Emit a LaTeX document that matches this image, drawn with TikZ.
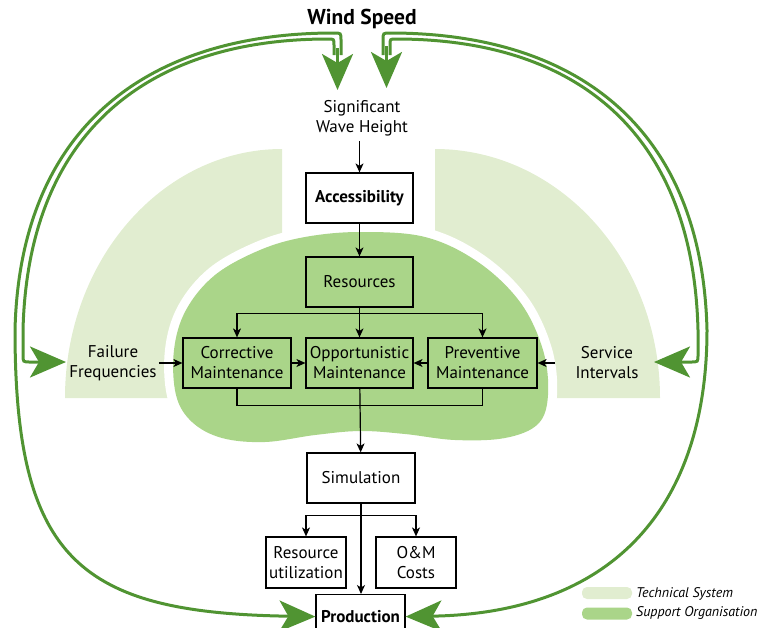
\documentclass[tikz,border=0pt]{standalone}
\usepackage{fontspec}
\setmainfont{PT Sans}
\usetikzlibrary{arrows.meta}
\definecolor{gArrow}{RGB}{80,148,50}
\definecolor{gDark}{RGB}{170,213,137}
\definecolor{gLight}{RGB}{225,237,208}
\begin{document}
\begin{tikzpicture}[x=1pt,y=-1pt,
  txt/.style={inner sep=2pt, align=center, font=\fontsize{17}{20}\selectfont},
  boxbase/.style={draw=black, line width=1.2pt, minimum width=107pt, minimum height=50pt, inner sep=0pt, align=center, font=\fontsize{17}{20}\selectfont},
  wbox/.style={boxbase, fill=white},
  dbox/.style={boxbase, fill=gDark},
  conn/.style={draw=black, line width=1.2pt, -{Stealth[length=9pt,width=8pt,inset=2.5pt]}},
  plainline/.style={draw=black, line width=1.2pt},
  gline/.style={draw=gArrow, line width=3pt},
  garrow/.style={-{Stealth[length=36pt,width=31pt,inset=9pt]}},
  legbox/.style={rounded corners=5pt, minimum width=50pt, minimum height=12pt, inner sep=0pt},
  legtxt/.style={anchor=west, inner sep=0pt, font=\itshape\fontsize{14}{16}\selectfont}
]
\useasboundingbox (0,0) rectangle (763,627);
\clip (0,0) rectangle (763,627);

% technical system (light) shapes
\fill[gLight] (282,149) arc[start angle=90, end angle=180, x radius=217pt, y radius=249pt] -- (178,398) -- (282,255) -- cycle;
\fill[gLight] (435,149) arc[start angle=90, end angle=0, x radius=225pt, y radius=249pt] -- (545,398) -- (435,255) -- cycle;

% support organisation (dark) blob
\fill[gDark, preaction={draw=white, line width=18pt}] plot[smooth cycle, tension=0.6] coordinates {
 (360,232) (425,237) (478,262) (520,302) (543,350) (548,395) (538,424) (505,438) (455,440) (405,434)
 (360,431) (315,435) (265,442) (222,438) (192,422) (176,395) (174,350) (186,310) (215,275) (260,250) (305,237)};

% nodes
\node[font=\bfseries\fontsize{21.5}{24}\selectfont, inner sep=0pt] (wind) at (362,19) {Wind Speed};
\node[txt] (sig) at (362,118) {Significant\\Wave Height};
\node[wbox, font=\bfseries\fontsize{17}{20}\selectfont] (access) at (359.5,198) {Accessibility};
\node[dbox] (res) at (359.5,282) {Resources};
\node[dbox, minimum width=108pt] (corr) at (237,363) {Corrective\\Maintenance};
\node[dbox] (opp) at (359.5,363) {Opportunistic\\Maintenance};
\node[dbox, minimum width=109pt] (prev) at (482.5,363) {Preventive\\Maintenance};
\node[txt] (ff) at (113,363) {Failure\\Frequencies};
\node[txt, inner xsep=20pt] (si) at (607,363) {Service\\Intervals};
\node[wbox, minimum width=108pt] (sim) at (361,478) {Simulation};
\node[wbox, minimum width=80pt, minimum height=51pt] (ru) at (306,562.5) {Resource\\utilization};
\node[wbox, minimum width=80pt, minimum height=51pt] (om) at (416,562.5) {O\&M\\Costs};
\node[wbox, minimum width=89pt, minimum height=44pt, anchor=north, font=\bfseries\fontsize{17}{20}\selectfont] (prod) at (360.5,594) {Production};

% black connectors
\draw[conn, shorten <=3pt] (sig.south -| access.north) -- (access.north);
\draw[conn] (access) -- (res);
\draw[conn] (res) -- (opp);
\draw[conn] (res.south) -- ++(0,6) -| (corr.north);
\draw[conn] (res.south) -- ++(0,6) -| (prev.north);
\draw[conn] (ff) -- (corr);
\draw[conn] (corr) -- (opp);
\draw[conn] (prev) -- (opp);
\draw[conn] (si) -- (prev);
\draw[plainline] (corr.south) -- ++(0,17) -| (prev.south);
\draw[conn] (opp) -- (sim);
\draw[conn] (sim.south) -- (prod.north -| sim.south);
\draw[conn] (sim.south) -- ++(0,12) -| (ru.north);
\draw[conn] (sim.south) -- ++(0,12) -| (om.north);

% green feedback loops
\coordinate (tlTip) at (337.5,90);
\coordinate (trTip) at (386.5,88);
\coordinate (ffTip) at (66,362);
\coordinate (siTip) at (654,362);

\draw[gline] (341,55) -- (341,40) .. controls (341,33) .. (334,33);
\draw[gline, garrow] (334,33) .. controls (150,33) and (20,125) .. (15,330) .. controls (15,560) and (80,613) .. (prod.west);
\draw[gline, garrow] (334,55) -- (334,45) .. controls (334,39) .. (328,39) .. controls (150,39) and (28,130) .. (23,330) -- (23,355) .. controls (23,362) .. (30,362) -- (ffTip);
\draw[gline, garrow] (337.5,48) -- (tlTip);

\draw[gline] (383,55) -- (383,40) .. controls (383,33) .. (390,33);
\draw[gline, garrow] (390,33) .. controls (574,33) and (702,125) .. (707,330) .. controls (707,500) and (620,613) .. (prod.east);
\draw[gline, garrow] (390,55) -- (390,45) .. controls (390,39) .. (396,39) .. controls (574,39) and (693,130) .. (698,330) -- (698,355) .. controls (698,362) .. (691,362) -- (siTip);
\draw[gline, garrow] (386.5,46) -- (trTip);

% legend
\node[legbox, fill=gLight] (legT) at (607,593) {};
\node[legbox, fill=gDark] (legS) at (607,613.5) {};
\node[legtxt] (legTtxt) at (636,594) {Technical System};
\node[legtxt] (legStxt) at (636,613) {Support Organisation};
\end{tikzpicture}
\end{document}
